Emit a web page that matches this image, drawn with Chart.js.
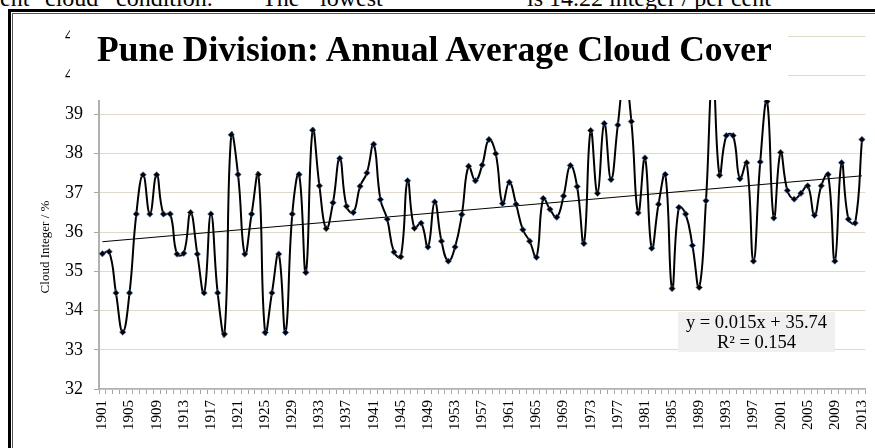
<!DOCTYPE html>
<html>
<head>
<meta charset="utf-8">
<script src="https://cdn.jsdelivr.net/npm/chart.js@4.4.0/dist/chart.umd.min.js"></script>
<style>
  html, body { margin:0; padding:0; background:#fff; }
  body { width:875px; height:448px; position:relative; overflow:hidden; font-family:'Liberation Serif','Times New Roman',serif; }
  #wrap { position:absolute; left:0; top:0; width:886px; height:448px; }
  .frameOuter { position:absolute; left:8px; top:9px; width:900px; height:500px; border-left:3px solid #000; border-top:3px solid #000; }
  .frameInner { position:absolute; left:12px; top:13px; width:900px; height:500px; border-left:1px solid #555; border-top:1px solid #555; }
  .tw { position:absolute; top:-14px; font-size:24px; line-height:24px; white-space:pre; color:#000; }
  #titleBox { position:absolute; left:70px; top:22px; width:718px; height:78px; background:#fff; }
  #titleText { position:absolute; left:27px; top:10px; font-size:35.5px; line-height:35px; font-weight:bold; white-space:nowrap; color:#000; }
  #eqBox { position:absolute; left:678px; top:312px; width:157px; height:40px; background:#f0f0f0; text-align:center; font-size:18.5px; line-height:20px; color:#000; padding-top:0px; box-sizing:border-box; }
  #yTitle { position:absolute; left:45px; top:247px; transform:translate(-50%,-50%) rotate(-90deg); font-size:13px; white-space:nowrap; color:#000; }
</style>
</head>
<body>
<div class="tw" style="left:0px;">ent</div>
<div class="tw" style="left:45px;">cloud</div>
<div class="tw" style="left:116px;">condition.</div>
<div class="tw" style="left:262px;">The</div>
<div class="tw" style="left:320px;">lowest</div>
<div class="tw" style="left:527px;">is 14.22 integer / per cent</div>
<div id="wrap"><canvas id="c" width="886" height="448"></canvas></div>
<div class="frameOuter"></div>
<div class="frameInner"></div>
<div id="titleBox"><div id="titleText">Pune Division: Annual Average Cloud Cover</div></div>
<div id="eqBox">y = 0.015x + 35.74<br>R² = 0.154</div>
<div id="yTitle">Cloud Integer / %</div>
<script>
const years = [1901,1902,1903,1904,1905,1906,1907,1908,1909,1910,1911,1912,1913,1914,1915,1916,1917,1918,1919,1920,
1921,1922,1923,1924,1925,1926,1927,1928,1929,1930,1931,1932,1933,1934,1935,1936,1937,1938,1939,1940,
1941,1942,1943,1944,1945,1946,1947,1948,1949,1950,1951,1952,1953,1954,1955,1956,1957,1958,1959,1960,
1961,1962,1963,1964,1965,1966,1967,1968,1969,1970,1971,1972,1973,1974,1975,1976,1977,1978,1979,1980,
1981,1982,1983,1984,1985,1986,1987,1988,1989,1990,1991,1992,1993,1994,1995,1996,1997,1998,1999,2000,
2001,2002,2003,2004,2005,2006,2007,2008,2009,2010,2011,2012,2013];
const cloudCover = [35.45,35.50,34.45,33.45,34.45,36.46,37.46,36.46,37.46,36.46,36.46,35.44,35.46,36.50,35.44,34.45,36.46,34.45,33.40,38.48,
37.47,35.44,36.46,37.47,33.44,34.45,35.44,33.44,36.46,37.47,34.97,38.60,37.18,36.09,36.75,37.88,36.66,36.50,37.17,37.51,
38.24,36.83,36.33,35.49,35.37,37.31,36.10,36.23,35.62,36.77,35.77,35.26,35.62,36.45,37.68,37.31,37.71,38.36,38.00,36.73,
37.27,36.71,36.06,35.77,35.36,36.86,36.58,36.38,36.92,37.70,37.16,35.71,38.59,36.99,38.77,37.34,38.73,40.00,38.82,36.49,
37.89,35.59,36.71,37.47,34.56,36.63,36.46,35.66,34.59,36.80,40.10,37.45,38.46,38.46,37.36,37.77,35.26,37.79,39.33,36.36,
38.03,37.06,36.84,36.99,37.18,36.43,37.18,37.47,35.26,37.77,36.33,36.23,38.36];
const yTicks = [32,33,34,35,36,37,38,39,40,41];
const trendSlope = 0.015, trendIntercept = 35.74;

const trend = years.map((y,i) => (i===0 || i===years.length-1) ? trendIntercept + trendSlope*(i+1) : null);
const serif = "'Liberation Serif','Times New Roman',serif";

new Chart(document.getElementById('c'), {
  type: 'line',
  data: {
    labels: years.map(String),
    datasets: [
      { data: cloudCover, borderColor:'#000', borderWidth:2, tension:0.45,
        pointStyle:'rectRot', pointRadius:3.2, pointBackgroundColor:'#000',
        pointBorderColor:'rgba(80,120,190,0.8)', pointBorderWidth:0.8, pointHoverRadius:3.2, order:1 },
      { data: trend, borderColor:'#000', borderWidth:1, pointRadius:0, spanGaps:true, tension:0, order:2 }
    ]
  },
  options: {
    responsive:false, animation:false, devicePixelRatio:1,
    layout: { padding: { left:54, right:8, top:36, bottom:12 } },
    plugins: { legend:{display:false}, tooltip:{enabled:false} },
    scales: {
      x: {
        type:'category', offset:true,
        grid: { display:true, drawOnChartArea:false, drawTicks:true, tickLength:5, offset:true, color:'#a6a6a6', tickColor:'#a6a6a6' },
        border: { display:true, color:'#b0b0b0', width:1.5 },
        ticks: { autoSkip:false, minRotation:90, maxRotation:90, padding:6, color:'#000',
          font:{ family:serif, size:15 },
          callback: function(v, i){ return (i % 4 === 0) ? years[i] : ''; } }
      },
      y: {
        min:32, max:41,
        afterBuildTicks: (ax) => { ax.ticks = yTicks.map(v => ({value:v})); },
        grid: { color:'rgb(224,219,200)', lineWidth:1, drawTicks:true, tickLength:5, tickColor:'#a6a6a6' },
        border: { display:true, color:'#b0b0b0', width:2 },
        ticks: { padding:11, color:'#000', font:{ family:serif, size:18 } }
      }
    }
  }
});
</script>
</body>
</html>
